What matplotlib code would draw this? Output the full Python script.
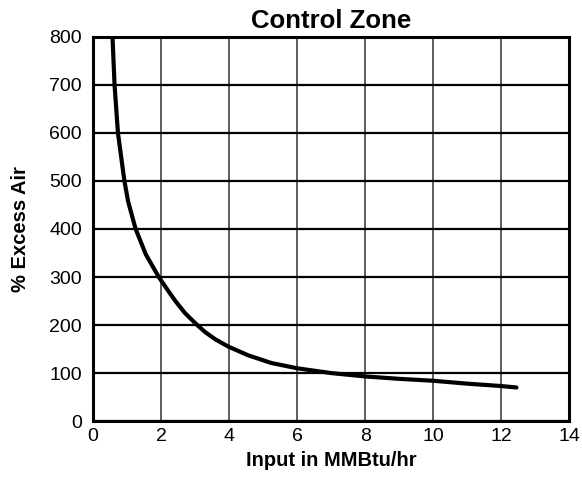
import matplotlib.pyplot as plt

# curve
input_mmbtu = [0.57, 0.63, 0.73, 0.92, 1.03, 1.25, 1.55, 1.93, 2.2, 2.43, 2.7,
               3.06, 3.3, 3.6, 3.98, 4.56, 5.24, 6.0, 7.0, 8.0, 9.0, 10.0,
               11.0, 12.0, 12.45]
excess_air = [800, 700, 600, 500, 457, 400, 347, 300, 272, 249, 225,
              200, 185, 170, 155, 137, 121, 110, 100, 93, 88, 84,
              78, 73, 70]

x_ticks = [0, 2, 4, 6, 8, 10, 12, 14]
y_ticks = [0, 100, 200, 300, 400, 500, 600, 700, 800]

plt.rcParams['font.family'] = ['Liberation Sans', 'DejaVu Sans']

fig = plt.figure(figsize=(5.82, 4.78), dpi=100)
ax = fig.add_axes([0.160, 0.119, 0.818, 0.804])

ax.plot(input_mmbtu, excess_air, color='black', linewidth=3.0,
        solid_capstyle='round', solid_joinstyle='round', zorder=3)

ax.set_xlim(0, 14)
ax.set_ylim(0, 800)
ax.set_xticks(x_ticks)
ax.set_yticks(y_ticks)
ax.tick_params(length=0, labelsize=14)
ax.tick_params(axis='x', pad=5)
ax.tick_params(axis='y', pad=8)

ax.grid(True, axis='y', color='black', linewidth=1.6)
ax.grid(True, axis='x', color='#333333', linewidth=1.1)
for s in ax.spines.values():
    s.set_linewidth(2.2)

ax.set_title('Control Zone', fontsize=18.5, fontweight='bold', pad=6)
ax.set_xlabel('Input in MMBtu/hr', fontsize=14.5, fontweight='bold', labelpad=4)
ax.set_ylabel('% Excess Air', fontsize=14.5, fontweight='bold', labelpad=14)

fig.savefig('out.png', dpi=100)
